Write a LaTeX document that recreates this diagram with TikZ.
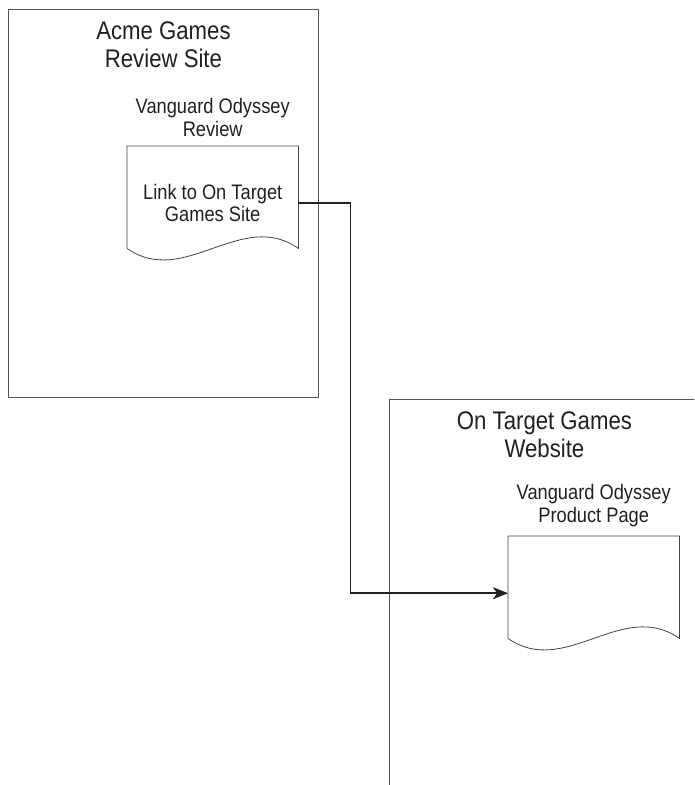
\documentclass[tikz,border=0pt]{standalone}
\usepackage{fontspec}
\setmainfont{Liberation Sans}[FakeStretch=0.87]
\usetikzlibrary{positioning,arrows.meta}
\definecolor{ink}{HTML}{231F20}
\definecolor{frame}{HTML}{555555}
\tikzset{
   site/.style={draw=frame, line width=0.9pt, rectangle, minimum width=310pt,
      minimum height=388pt, inner sep=0pt, anchor=north west},
   sitetitle/.style={text=ink, align=center, inner sep=0pt,
      font=\fontsize{25.5}{28}\selectfont},
   page/.style={rectangle, minimum width=171pt, minimum height=114pt,
      inner sep=0pt, text=ink, align=center, font=\fontsize{21}{22.5}\selectfont},
   pagelabel/.style={text=ink, align=center, inner sep=0pt,
      font=\fontsize{21}{23}\selectfont},
   pageline/.style={draw=ink!85, line width=0.8pt},
   link/.style={draw=ink, line width=1.8pt,
      -{Stealth[length=15pt,width=12pt,inset=4pt]}}
}
\begin{document}
\begin{tikzpicture}[x=1pt, y=-1pt]
   \useasboundingbox (0,0) rectangle (694,785);
   \clip (0,0) rectangle (694,785);
   \def \Sites {
      acme/8/9/{Acme Games\\Review Site}/{Vanguard Odyssey\\Review}/{Link to On Target\\Games Site},
      target/389/399/{On Target Games\\Website}/{Vanguard Odyssey\\Product Page}/{}}
   \foreach \s / \x / \y / \t / \l / \d in \Sites {
      \node[site] (\s) at (\x, \y) {};
      \node[sitetitle, anchor=base] (\s-title) at ([yshift=-58pt]\s.north) {\t};
      \node[page, below right=137pt and 119pt of \s.north west] (\s-doc) {\d};
      \node[pagelabel, above=9pt of \s-doc] (\s-lbl) {\l};
      \path[pageline] ([yshift=12pt]\s-doc.south west) -- (\s-doc.north west)
         -- (\s-doc.north east) -- ([yshift=12pt]\s-doc.south east)
         .. controls +(-57,-40) and +(57,40) .. ([yshift=12pt]\s-doc.south west);
   }
   \draw[link] (acme-doc.east) -- ++(52,0) |- (target-doc.west);
\end{tikzpicture}
\end{document}
